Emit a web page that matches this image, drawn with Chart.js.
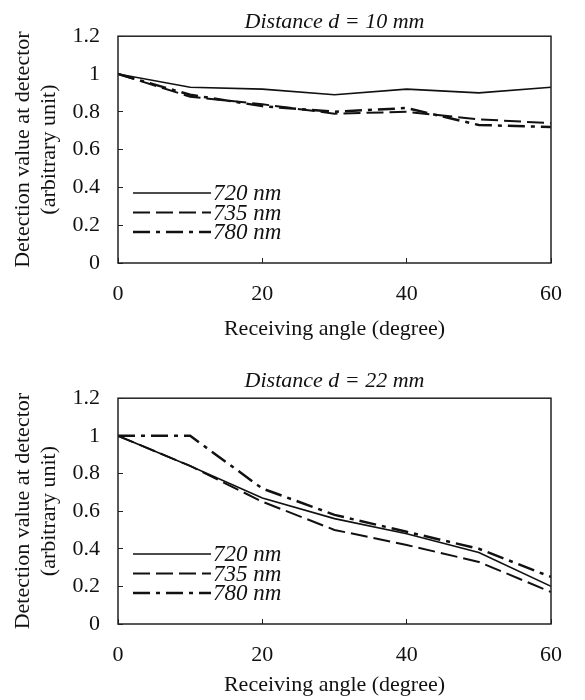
<!DOCTYPE html>
<html>
<head>
<meta charset="utf-8">
<script src="https://cdn.jsdelivr.net/npm/chart.js@4/dist/chart.umd.min.js"></script>
<style>
  body { margin: 0; background: #fff; }
  canvas { display: block; }
</style>
</head>
<body>
<canvas id="chart10" width="585" height="362"></canvas>
<canvas id="chart22" width="585" height="338"></canvas>
<script>
// receiving angles (degree)
const angles = [0, 10, 20, 30, 40, 50, 60];

// distance d = 10 mm
const d10_720 = [1.0, 0.93, 0.92, 0.89, 0.92, 0.90, 0.93];
const d10_735 = [1.0, 0.88, 0.84, 0.79, 0.80, 0.76, 0.74];
const d10_780 = [1.0, 0.89, 0.83, 0.80, 0.82, 0.73, 0.72];

// distance d = 22 mm
const d22_720 = [1.0, 0.84, 0.67, 0.56, 0.48, 0.38, 0.20];
const d22_735 = [1.0, 0.84, 0.65, 0.50, 0.42, 0.33, 0.17];
const d22_780 = [1.0, 1.0, 0.72, 0.58, 0.49, 0.40, 0.25];

const seriesLabels = ['720 nm', '735 nm', '780 nm'];
const xTicks = [0, 20, 40, 60];
const yTicks = [0, 0.2, 0.4, 0.6, 0.8, 1, 1.2];

const FONT = '"Liberation Serif", "Times New Roman", serif';
Chart.defaults.font.family = FONT;
Chart.defaults.color = '#111';

// line looks per wavelength
const lineStyles = [
  { borderWidth: 1.6, borderDash: [] },
  { borderWidth: 2, borderDash: [17, 6] },
  { borderWidth: 2.5, borderDash: [17, 6, 4, 6] },
];

// box round the plot area
const framePlugin = {
  id: 'frame',
  afterDraw(chart) {
    const { ctx, chartArea: a } = chart;
    ctx.save();
    ctx.strokeStyle = '#222';
    ctx.lineWidth = 1.5;
    ctx.strokeRect(a.left, a.top, a.right - a.left, a.bottom - a.top);
    ctx.restore();
  }
};

// legend drawn inside the plot, lower left
const insideLegend = {
  id: 'insideLegend',
  afterDatasetsDraw(chart) {
    const { ctx, chartArea: a } = chart;
    ctx.save();
    ctx.font = 'italic 23px ' + FONT;
    ctx.textBaseline = 'middle';
    ctx.fillStyle = '#111';
    chart.data.datasets.forEach((ds, i) => {
      const y = a.bottom - 70 + i * 19.5;
      ctx.beginPath();
      ctx.strokeStyle = '#111';
      ctx.lineWidth = ds.borderWidth;
      ctx.setLineDash(ds.borderDash);
      ctx.moveTo(a.left + 15, y);
      ctx.lineTo(a.left + 93, y);
      ctx.stroke();
      ctx.setLineDash([]);
      ctx.fillText(ds.label, a.left + 95, y + 1);
    });
    ctx.restore();
  }
};

const makeChart = (id, title, series, lay) => {
  const ctx = document.getElementById(id).getContext('2d');
  return new Chart(ctx, {
    type: 'line',
    data: {
      datasets: series.map((vals, i) => ({
        label: seriesLabels[i],
        data: angles.map((a, j) => ({ x: a, y: vals[j] })),
        borderColor: '#111',
        borderWidth: lineStyles[i].borderWidth,
        borderDash: lineStyles[i].borderDash,
        pointRadius: 0,
        tension: 0,
        fill: false,
      })),
    },
    options: {
      responsive: false,
      animation: false,
      devicePixelRatio: 1,
      layout: { padding: { left: 0, right: 20, top: 0, bottom: 0 } },
      plugins: {
        legend: { display: false },
        tooltip: { enabled: false },
        title: {
          display: true,
          fullSize: false,
          text: title,
          font: { size: 22, style: 'italic', weight: 'normal', lineHeight: 1 },
          padding: lay.titlePad,
          color: '#111',
        },
      },
      scales: {
        x: {
          type: 'linear',
          min: 0,
          max: 60,
          afterBuildTicks: (s) => { s.ticks = xTicks.map(v => ({ value: v })); },
          afterFit: (s) => { s.height = lay.xHeight; },
          ticks: { padding: 23, font: { size: 22 }, maxRotation: 0, callback: (v) => String(v) },
          grid: { drawOnChartArea: false, tickLength: -5, color: '#222' },
          border: { display: false },
          title: {
            display: true,
            text: 'Receiving angle (degree)',
            font: { size: 22, lineHeight: 1.2 },
            padding: { top: 0, bottom: lay.xTitlePad },
          },
        },
        y: {
          type: 'linear',
          min: 0,
          max: 1.2,
          afterBuildTicks: (s) => { s.ticks = yTicks.map(v => ({ value: v })); },
          afterFit: (s) => { s.width = 118; },
          ticks: { padding: 23, font: { size: 22 }, callback: (v) => String(+v.toFixed(1)) },
          grid: { drawOnChartArea: false, tickLength: -5, color: '#222' },
          border: { display: false },
          title: {
            display: true,
            text: ['Detection value at detector', '(arbitrary unit)'],
            font: { size: 22, lineHeight: 1.18 },
            padding: { top: 10.5, bottom: 0 },
          },
        },
      },
    },
    plugins: [framePlugin, insideLegend],
  });
};

makeChart('chart10', 'Distance d = 10 mm', [d10_720, d10_735, d10_780],
  { titlePad: { top: 9, bottom: 3 }, xHeight: 99, xTitlePad: 19.8 });
makeChart('chart22', 'Distance d = 22 mm', [d22_720, d22_735, d22_780],
  { titlePad: { top: 7, bottom: 6 }, xHeight: 76, xTitlePad: 1.8 });
</script>
</body>
</html>
